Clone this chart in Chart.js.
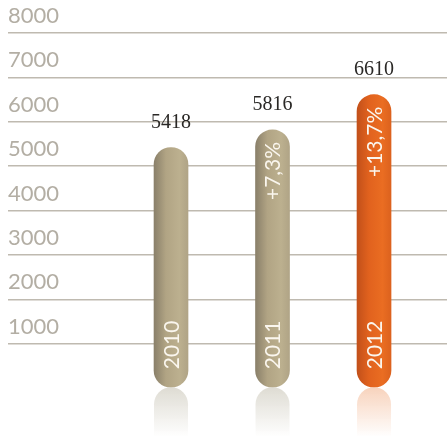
<!DOCTYPE html>
<html>
<head>
<meta charset="utf-8">
<style>
  html, body { margin: 0; padding: 0; background: #fff; }
  canvas { display: block; }
</style>
<script src="https://cdn.jsdelivr.net/npm/chart.js@4/dist/chart.umd.min.js"></script>
</head>
<body>
<canvas id="myBarChart" width="447" height="436"></canvas>
<script>
// data
var years = [2010, 2011, 2012];
var values = [5418, 5816, 6610];
var growth = ['', '+7,3%', '+13,7%'];
var yTicks = [1000, 2000, 3000, 4000, 5000, 6000, 7000, 8000];

// bar colours: [dark edge, mid, light, right edge]
var tan = ['#8a806a', '#b1a484', '#bcb08f', '#b0a486'];
var orange = ['#c2501a', '#e1621e', '#ea6d22', '#dc621e'];
var barColors = [tan, tan, orange];
var glowColors = ['rgba(214,211,200,', 'rgba(214,211,200,', 'rgba(246,200,172,'];

function barFill(c) {
    var cols = barColors[c.dataIndex] || tan;
    var chart = c.chart;
    if (!chart.chartArea || c.dataIndex === undefined) return cols[2];
    var x = chart.scales.x.getPixelForValue(years[c.dataIndex]);
    var g = chart.ctx.createLinearGradient(x - 17, 0, x + 17, 0);
    g.addColorStop(0, cols[0]);
    g.addColorStop(0.35, cols[1]);
    g.addColorStop(0.75, cols[2]);
    g.addColorStop(1, cols[3]);
    return g;
}

// reflection below the bars + texts on and above them
var barExtras = {
    id: 'barExtras',
    afterDatasetsDraw: function(chart) {
        var ctx = chart.ctx;
        var meta = chart.getDatasetMeta(0);
        meta.data.forEach(function(el, i) {
            var w = el.width, r = w / 2;
            var left = el.x - r, top = el.base;
            var h = 50;
            // reflection
            ctx.save();
            var g = ctx.createLinearGradient(0, top, 0, top + h);
            g.addColorStop(0, glowColors[i] + '0.8)');
            g.addColorStop(1, glowColors[i] + '0)');
            ctx.fillStyle = g;
            ctx.beginPath();
            ctx.moveTo(left, top + h);
            ctx.lineTo(left, top + r);
            ctx.arc(el.x, top + r, r, Math.PI, 0);
            ctx.lineTo(left + w, top + h);
            ctx.closePath();
            ctx.fill();
            ctx.restore();

            // value above the bar
            ctx.save();
            ctx.font = '20px "Liberation Serif", "DejaVu Serif", serif';
            ctx.fillStyle = '#2a2826';
            ctx.textAlign = 'center';
            ctx.textBaseline = 'alphabetic';
            ctx.fillText(values[i], el.x, el.y - 20);
            ctx.restore();

            // year, vertical, near bottom
            ctx.save();
            ctx.font = '21px Lato, "Open Sans", sans-serif';
            ctx.fillStyle = '#faf6ee';
            ctx.translate(el.x, el.base - 18);
            ctx.rotate(-Math.PI / 2);
            ctx.textAlign = 'left';
            ctx.textBaseline = 'middle';
            ctx.fillText(String(years[i]), 0, 1);
            ctx.restore();

            // growth, vertical, near top
            if (growth[i]) {
                ctx.save();
                ctx.font = '21px Lato, "Open Sans", sans-serif';
                ctx.fillStyle = '#faf6ee';
                ctx.translate(el.x, el.y + 12);
                ctx.rotate(-Math.PI / 2);
                ctx.textAlign = 'right';
                ctx.textBaseline = 'middle';
                ctx.fillText(growth[i], 0, 1);
                ctx.restore();
            }
        });
    }
};

var ctx = document.getElementById('myBarChart').getContext('2d');
var chart = new Chart(ctx, {
    type: 'bar',
    data: {
        datasets: [{
            data: years.map(function(y, i) { return { x: y, y: values[i] }; }),
            backgroundColor: barFill,
            borderWidth: 0,
            borderRadius: 17,
            borderSkipped: false,
            barThickness: 34
        }]
    },
    options: {
        responsive: false,
        animation: false,
        events: [],
        layout: { padding: { left: 8, right: 0, top: 33, bottom: 48 } },
        plugins: { legend: { display: false }, tooltip: { enabled: false } },
        scales: {
            x: {
                type: 'linear',
                offset: false,
                min: 2008.394,
                max: 2012.719,
                display: false
            },
            y: {
                min: 0,
                max: 8000,
                border: { display: false },
                grid: {
                    drawTicks: false,
                    lineWidth: 1.5,
                    color: function(c) {
                        return c.tick && c.tick.value === 0 ? 'rgba(0,0,0,0)' : '#bfbab0';
                    }
                },
                afterBuildTicks: function(scale) {
                    scale.ticks = [0].concat(yTicks).map(function(v) { return { value: v }; });
                },
                ticks: {
                    mirror: true,
                    padding: 0,
                    labelOffset: -17,
                    color: '#b3aea4',
                    font: { family: 'Lato, "Open Sans", sans-serif', size: 22, weight: 400 },
                    callback: function(v) { return v === 0 ? '' : v; }
                }
            }
        }
    },
    plugins: [barExtras]
});
</script>
</body>
</html>
